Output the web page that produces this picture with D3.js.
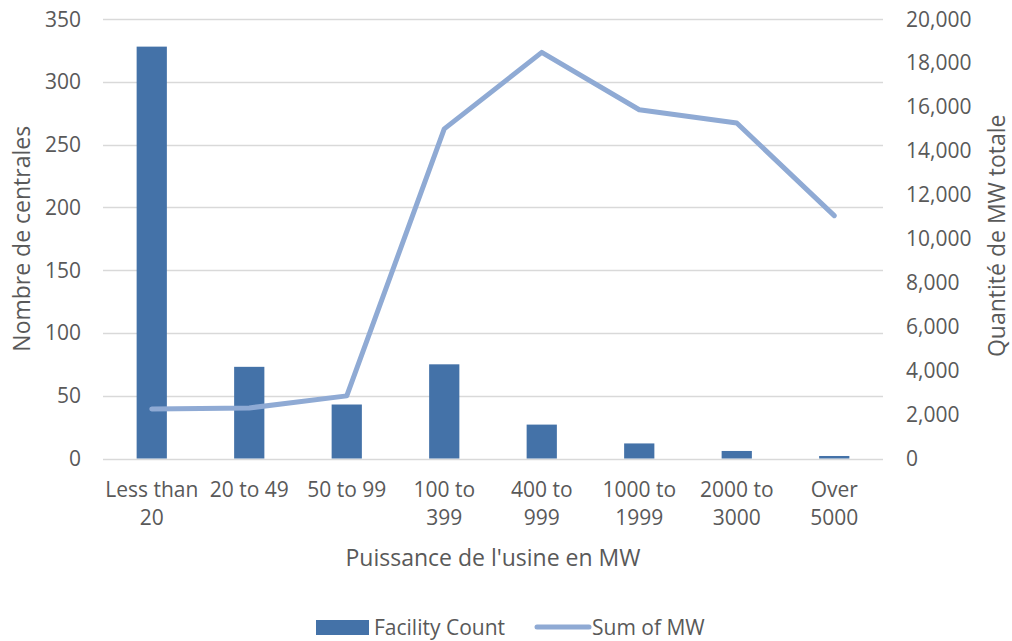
<!DOCTYPE html>
<html>
<head>
<meta charset="utf-8">
<script src="https://cdn.jsdelivr.net/npm/d3@7"></script>
<style>
  body { margin: 0; background: #fff; }
  text { font-family: "Open Sans", "Noto Sans", sans-serif; fill: #595959; }
</style>
</head>
<body>
<div id="chart"></div>
<script>
const categories = [["Less than", "20"], ["20 to 49"], ["50 to 99"], ["100 to", "399"], ["400 to", "999"], ["1000 to", "1999"], ["2000 to", "3000"], ["Over", "5000"]];
const facilityCount = [328, 73, 43, 75, 27, 12, 6, 2];
const sumOfMW = [2250, 2300, 2850, 15000, 18480, 15870, 15270, 11050];
const leftTicks = [0, 50, 100, 150, 200, 250, 300, 350];
const rightTicks = [0, 2000, 4000, 6000, 8000, 10000, 12000, 14000, 16000, 18000, 20000];

const width = 1012,
    height = 641;
const plot = { left: 103, right: 883, top: 19, bottom: 458.5 };

const svg = d3.select("#chart")
    .append("svg")
    .attr("width", width)
    .attr("height", height);

const x = d3.scaleBand()
    .domain(d3.range(categories.length))
    .range([plot.left, plot.right])
    .paddingInner(0.69)
    .paddingOuter(0.345);

const yLeft = d3.scaleLinear().domain([0, 350]).range([plot.bottom, plot.top]);
const yRight = d3.scaleLinear().domain([0, 20000]).range([plot.bottom, plot.top]);

// gridlines
svg.append("g")
    .selectAll("line")
    .data(leftTicks)
    .join("line")
    .attr("x1", plot.left)
    .attr("x2", plot.right)
    .attr("y1", d => Math.round(yLeft(d)) + 0.5)
    .attr("y2", d => Math.round(yLeft(d)) + 0.5)
    .attr("stroke", "#d9d9d9")
    .attr("stroke-width", 1.3);

// bars
svg.append("g")
    .selectAll("rect")
    .data(facilityCount)
    .join("rect")
    .attr("x", (d, i) => x(i))
    .attr("width", x.bandwidth())
    .attr("y", d => yLeft(d))
    .attr("height", d => yLeft(0) - yLeft(d))
    .attr("fill", "#4472a8");

// line
const line = d3.line()
    .x((d, i) => x(i) + x.bandwidth() / 2)
    .y(d => yRight(d));

svg.append("path")
    .datum(sumOfMW)
    .attr("d", line)
    .attr("fill", "none")
    .attr("stroke", "#8faad4")
    .attr("stroke-width", 5)
    .attr("stroke-linecap", "round")
    .attr("stroke-linejoin", "round");

// left axis labels
svg.append("g")
    .selectAll("text")
    .data(leftTicks)
    .join("text")
    .attr("x", 81)
    .attr("y", d => yLeft(d) + 7.5)
    .attr("text-anchor", "end")
    .style("font-size", "21px")
    .text(d => d);

// right axis labels
svg.append("g")
    .selectAll("text")
    .data(rightTicks)
    .join("text")
    .attr("x", 906)
    .attr("y", d => yRight(d) + 7.5)
    .attr("text-anchor", "start")
    .style("font-size", "21px")
    .text(d3.format(","));

// category labels
svg.append("g")
    .selectAll("text")
    .data(categories)
    .join("text")
    .attr("text-anchor", "middle")
    .style("font-size", "21px")
    .attr("transform", (d, i) => `translate(${x(i) + x.bandwidth() / 2}, 497)`)
    .selectAll("tspan")
    .data(d => d)
    .join("tspan")
    .attr("x", 0)
    .attr("dy", (d, j) => j === 0 ? 0 : 28)
    .text(d => d);

// axis titles
svg.append("text")
    .attr("x", 493)
    .attr("y", 566)
    .attr("text-anchor", "middle")
    .style("font-size", "23px")
    .text("Puissance de l'usine en MW");

svg.append("text")
    .attr("transform", `translate(30, ${(plot.top + plot.bottom) / 2}) rotate(-90)`)
    .attr("text-anchor", "middle")
    .style("font-size", "23px")
    .text("Nombre de centrales");

svg.append("text")
    .attr("transform", `translate(1005, ${(plot.top + plot.bottom) / 2 - 3}) rotate(-90)`)
    .attr("text-anchor", "middle")
    .style("font-size", "23px")
    .text("Quantité de MW totale");

// legend
const legend = svg.append("g");
legend.append("rect")
    .attr("x", 316).attr("y", 620)
    .attr("width", 53).attr("height", 15)
    .attr("fill", "#4472a8");
legend.append("text")
    .attr("x", 374).attr("y", 635)
    .style("font-size", "21px")
    .text("Facility Count");
legend.append("line")
    .attr("x1", 537).attr("x2", 589)
    .attr("y1", 627).attr("y2", 627)
    .attr("stroke", "#8faad4")
    .attr("stroke-width", 5)
    .attr("stroke-linecap", "round");
legend.append("text")
    .attr("x", 592).attr("y", 635)
    .style("font-size", "21px")
    .text("Sum of MW");
</script>
</body>
</html>
